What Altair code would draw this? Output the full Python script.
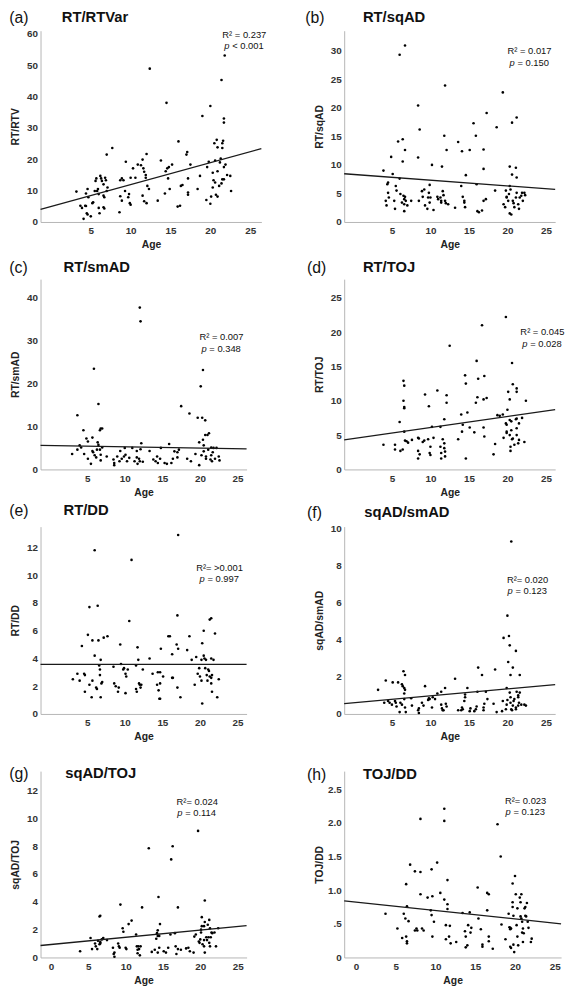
import altair as alt
import pandas as pd

FONT = "Liberation Sans"

# ---------------- data (age, value) ----------------
RT_RTVAR = [(3.2,9.7),(3.7,5.2),(3.9,4.5),(4.3,5.2),(4.4,5.1),(4.1,1.0),(4.5,2.8),(4.6,2.4),(4.4,9.1),(4.6,10.5),(4.7,7.9),(5.0,1.8),(5.2,6.0),(5.3,6.3),(5.5,9.9),(5.6,13.1),(5.7,13.9),(5.8,9.9),(5.9,10.5),(6.0,8.9),(6.0,4.5),(6.1,2.8),(6.2,14.7),(6.3,13.9),(6.4,13.1),(6.6,12.0),(6.6,8.4),(6.7,7.9),(6.6,4.7),(6.7,4.3),(6.8,14.1),(6.9,13.3),(7.0,21.5),(7.0,9.9),(7.1,11.0),(7.7,23.6),(8.6,3.1),(8.7,13.3),(8.9,13.9),(9.1,13.3),(8.7,8.2),(8.9,6.8),(9.3,9.9),(9.4,19.2),(9.7,7.9),(9.8,8.9),(9.9,6.0),(10.0,5.5),(10.0,14.1),(10.3,17.1),(10.6,14.1),(10.9,18.3),(11.3,18.1),(11.5,19.9),(11.6,17.1),(11.7,16.0),(11.5,8.4),(11.7,6.6),(12.0,6.0),(11.9,15.0),(11.9,14.1),(12.0,21.7),(12.1,11.5),(12.3,10.5),(12.4,48.9),(13.4,6.8),(13.8,19.6),(14.3,9.1),(14.4,16.2),(14.6,17.1),(14.5,38.0),(14.7,13.9),(14.8,17.5),(14.9,10.5),(15.2,18.3),(15.9,4.9),(16.2,5.2),(16.0,25.7),(16.3,11.5),(16.5,11.8),(17.0,21.5),(17.1,22.3),(17.2,9.4),(17.2,8.7),(17.2,13.9),(17.5,18.3),(18.4,10.5),(18.7,14.7),(19.0,33.8),(19.5,7.0),(19.6,17.5),(19.8,19.2),(20.0,37.0),(20.0,5.8),(20.1,8.1),(20.3,15.7),(20.4,13.3),(20.3,11.0),(20.5,25.1),(20.6,19.6),(20.6,12.6),(20.7,8.7),(20.8,26.2),(20.9,23.8),(20.9,16.2),(21.1,11.5),(20.9,8.1),(21.2,19.0),(21.3,20.2),(21.4,45.3),(21.4,12.3),(21.5,25.1),(21.5,23.6),(21.6,25.9),(21.5,13.6),(21.7,13.6),(21.7,31.7),(21.7,33.0),(21.7,17.5),(21.8,53.1),(21.9,18.3),(22.1,15.0),(22.6,9.9),(22.5,14.7)]

RT_SQAD = [(3.9,9.0),(4.2,3.7),(4.3,2.9),(4.4,6.6),(4.5,6.9),(4.5,5.1),(4.6,4.3),(4.9,11.4),(5.1,8.4),(5.3,3.7),(5.4,2.3),(5.5,6.3),(5.6,5.5),(5.8,14.1),(6.0,29.3),(6.0,7.6),(6.1,4.9),(6.3,3.4),(6.4,14.5),(6.4,10.6),(6.5,4.6),(6.6,4.0),(6.7,4.4),(6.6,3.1),(6.6,1.9),(6.7,12.6),(6.7,30.9),(6.8,3.7),(7.0,2.9),(7.5,3.7),(8.4,20.4),(8.4,11.3),(8.5,3.7),(8.6,16.2),(8.9,5.4),(9.2,5.7),(9.0,4.4),(9.3,2.9),(9.6,2.3),(9.7,4.3),(9.8,5.1),(9.9,6.5),(9.9,3.4),(10.0,4.3),(10.2,10.0),(10.4,2.1),(10.9,4.4),(11.0,4.0),(11.3,4.3),(11.4,3.4),(11.4,3.7),(11.5,9.7),(11.6,5.4),(11.7,4.7),(11.8,15.1),(11.9,23.9),(11.9,3.7),(12.0,3.3),(12.1,12.6),(12.3,3.1),(13.2,2.5),(13.6,14.0),(14.0,6.3),(14.1,12.4),(14.2,4.4),(14.4,3.4),(14.4,3.7),(14.5,2.6),(14.6,8.2),(15.1,12.6),(15.6,17.3),(15.9,15.1),(16.0,6.6),(16.1,1.9),(16.3,1.7),(16.7,2.0),(16.9,12.7),(16.9,3.7),(16.9,9.3),(17.3,19.1),(17.2,4.0),(18.6,16.6),(18.4,5.5),(19.4,22.7),(19.5,3.1),(19.7,2.6),(19.8,5.5),(19.9,4.4),(19.9,4.3),(20.1,3.7),(20.2,4.9),(20.3,9.7),(20.3,6.3),(20.4,5.7),(20.3,1.5),(20.5,1.3),(20.6,17.4),(20.6,8.3),(20.7,3.7),(20.8,3.3),(20.9,2.6),(21.1,9.5),(21.2,7.8),(21.1,4.3),(21.2,5.1),(21.2,18.3),(21.4,3.1),(21.5,2.3),(21.6,4.3),(21.8,4.6),(21.9,5.1),(22.2,5.1),(22.3,4.7),(22.0,3.7)]

RT_SMAD = [(3.0,3.6),(3.7,12.6),(3.7,4.6),(4.0,5.6),(4.2,5.1),(4.5,9.1),(4.6,3.6),(4.9,7.2),(5.1,6.5),(5.1,2.5),(5.5,1.3),(5.7,7.4),(5.7,4.3),(5.8,4.0),(5.9,23.4),(6.0,3.3),(6.2,2.8),(6.3,4.6),(6.4,6.3),(6.5,5.7),(6.5,15.2),(6.7,9.1),(6.8,9.5),(6.8,3.4),(6.8,2.1),(6.7,4.6),(7.0,5.1),(7.0,9.5),(7.6,3.0),(8.5,2.3),(8.6,1.0),(8.6,1.5),(9.0,3.0),(9.3,1.9),(9.4,4.3),(9.6,2.5),(9.9,3.0),(10.0,5.0),(10.1,3.4),(10.3,1.9),(10.6,2.7),(11.0,5.0),(11.3,1.9),(11.6,2.8),(11.7,1.3),(11.6,4.3),(11.9,2.5),(12.0,1.9),(12.1,4.7),(12.0,37.6),(12.1,34.4),(12.2,6.1),(12.4,1.8),(13.3,4.3),(13.8,2.3),(14.1,1.9),(14.3,3.0),(14.4,1.5),(14.7,2.5),(14.8,5.0),(15.3,1.5),(15.6,1.3),(15.9,5.9),(16.2,1.5),(16.4,2.5),(16.6,4.2),(17.0,2.8),(17.0,4.0),(17.2,4.6),(17.5,14.7),(18.3,2.5),(18.6,13.0),(18.8,1.9),(19.4,3.6),(19.7,12.0),(19.9,1.0),(19.9,6.3),(20.1,19.3),(20.2,3.3),(20.3,12.0),(20.4,23.1),(20.4,6.9),(20.5,5.6),(20.5,4.2),(20.7,8.0),(20.7,11.4),(20.8,2.5),(20.8,3.0),(21.0,8.0),(21.1,4.6),(21.2,8.4),(21.4,2.3),(21.5,3.3),(21.6,1.9),(21.5,5.1),(21.7,4.0),(21.8,5.0),(22.0,2.5),(22.2,5.0),(22.5,3.0),(22.6,2.1)]

RT_TOJ = [(3.9,3.6),(5.4,3.6),(5.4,2.9),(6.0,6.9),(6.1,2.7),(6.4,2.9),(6.5,12.9),(6.6,12.2),(6.5,10.0),(6.6,8.9),(6.6,9.1),(6.6,5.5),(6.7,4.2),(6.9,4.1),(7.1,3.9),(7.6,4.3),(8.4,4.6),(8.5,4.5),(8.4,2.7),(8.4,1.6),(8.6,2.2),(9.0,4.0),(9.2,4.2),(9.3,10.9),(9.7,4.4),(9.8,9.2),(9.9,2.4),(10.0,2.1),(10.0,3.3),(10.2,6.2),(10.4,4.6),(10.9,11.5),(11.3,6.2),(11.3,3.3),(11.4,2.4),(11.4,1.6),(11.6,4.4),(11.8,3.8),(11.8,3.1),(11.9,2.6),(11.9,1.9),(11.8,7.3),(12.1,10.8),(12.1,9.7),(12.5,18.0),(13.6,4.4),(14.0,8.0),(14.1,5.5),(14.2,6.5),(14.5,13.7),(14.6,12.5),(14.6,1.6),(14.8,8.3),(15.1,6.1),(15.7,5.4),(15.9,9.7),(16.0,15.8),(16.1,10.5),(16.2,13.2),(16.7,21.0),(16.9,6.1),(16.9,10.2),(17.0,4.8),(17.0,13.6),(17.3,10.4),(18.2,2.2),(18.4,3.7),(18.7,7.9),(19.0,7.8),(19.4,8.0),(19.5,4.6),(19.8,22.2),(19.8,6.7),(19.9,6.5),(19.9,5.5),(19.9,5.3),(20.0,8.7),(20.1,11.3),(20.3,10.2),(20.3,7.2),(20.3,5.0),(20.4,3.3),(20.4,2.7),(20.5,7.0),(20.6,4.4),(20.7,4.5),(20.5,5.7),(20.6,15.5),(20.7,12.4),(20.9,3.6),(21.1,7.3),(21.2,6.0),(21.2,11.8),(21.2,11.3),(21.2,5.0),(21.4,3.8),(21.5,4.3),(21.2,7.4),(21.5,6.7),(21.9,7.5),(22.2,4.0),(22.4,10.0)]

RT_DD = [(3.1,2.5),(3.7,2.9),(4.0,2.4),(4.3,4.9),(4.6,2.9),(4.7,2.8),(4.7,1.6),(5.1,5.7),(5.3,7.7),(5.3,2.1),(5.6,1.2),(5.7,5.3),(5.7,2.4),(6.0,11.8),(6.0,4.2),(6.2,1.9),(6.3,1.8),(6.4,7.8),(6.5,5.3),(6.6,3.5),(6.7,3.2),(6.7,2.8),(6.8,3.9),(6.8,1.2),(6.9,2.2),(7.0,2.3),(7.2,5.5),(7.7,5.6),(8.5,3.4),(8.6,2.2),(8.8,2.0),(9.1,1.6),(9.2,1.9),(9.4,5.0),(9.5,3.6),(9.8,3.2),(9.9,3.3),(10.1,2.9),(10.1,1.5),(10.2,2.7),(10.4,3.2),(10.6,6.7),(10.9,11.1),(11.5,3.5),(11.6,1.6),(11.5,1.8),(11.7,4.8),(11.8,3.9),(11.9,2.2),(12.0,2.1),(12.1,1.9),(12.2,2.1),(12.4,3.2),(13.3,4.0),(13.7,2.9),(14.3,2.1),(14.4,3.0),(14.5,1.7),(14.7,3.0),(14.6,1.1),(14.7,2.2),(14.7,1.1),(14.8,4.7),(15.1,2.7),(15.8,5.6),(16.0,5.6),(16.3,4.3),(16.3,2.6),(16.4,2.6),(16.9,5.0),(17.0,7.1),(17.0,1.9),(17.1,4.7),(17.1,12.9),(17.4,1.2),(18.3,4.6),(18.6,5.6),(18.9,3.9),(19.3,2.1),(19.5,4.1),(19.7,2.9),(19.9,3.3),(20.0,2.7),(20.2,3.9),(20.2,2.4),(20.3,5.1),(20.5,4.2),(20.3,0.75),(20.5,6.0),(20.6,4.0),(20.7,3.3),(20.8,3.9),(20.9,2.8),(21.0,2.4),(21.1,3.2),(21.2,3.1),(21.3,2.7),(21.5,2.2),(21.3,6.8),(21.5,6.9),(21.5,4.0),(21.5,2.6),(21.6,2.8),(21.6,1.6),(21.8,3.9),(22.0,5.8),(22.3,1.2),(22.5,2.5)]

SQAD_SMAD = [(3.2,1.3),(4.0,0.6),(4.2,1.8),(4.5,0.7),(4.7,0.6),(5.0,0.5),(5.1,1.7),(5.4,0.7),(5.5,0.6),(5.6,0.4),(5.8,1.7),(6.0,0.1),(6.1,0.6),(6.3,0.5),(6.3,1.6),(6.4,1.5),(6.5,2.3),(6.7,2.1),(6.6,1.4),(6.7,1.3),(6.6,1.1),(6.6,0.8),(6.7,0.35),(6.8,0.1),(7.5,0.85),(7.6,0.45),(8.4,0.2),(8.5,0.05),(8.5,0.3),(8.9,0.6),(9.1,0.45),(9.3,1.5),(9.7,0.75),(9.8,0.85),(9.9,0.8),(10.2,0.35),(10.3,0.9),(10.6,0.8),(10.9,1.1),(11.4,1.2),(11.4,0.5),(11.5,0.3),(11.6,0.2),(11.7,0.2),(11.9,1.4),(12.0,0.55),(12.1,0.4),(13.2,1.9),(13.6,0.2),(14.0,0.2),(14.1,0.35),(14.2,0.25),(14.4,0.7),(14.5,1.05),(14.5,0.9),(14.8,1.4),(15.1,0.15),(15.2,0.3),(15.7,0.15),(15.9,0.25),(16.0,0.4),(16.2,2.5),(16.1,1.2),(16.7,2.1),(16.9,0.2),(16.9,0.35),(17.0,0.55),(17.2,1.2),(17.4,0.8),(18.2,0.55),(18.4,2.4),(18.6,0.1),(19.3,0.15),(19.4,0.7),(19.5,4.1),(19.8,0.25),(19.9,0.5),(20.0,0.75),(19.9,1.4),(20.0,5.3),(20.1,2.8),(20.2,4.2),(20.3,3.7),(20.3,1.15),(20.4,0.9),(20.4,0.6),(20.4,2.1),(20.5,9.3),(20.5,0.25),(20.6,0.2),(20.7,0.45),(20.7,2.5),(20.8,0.7),(20.9,0.8),(21.1,3.4),(21.1,0.25),(21.1,0.35),(21.2,1.2),(21.4,1.0),(21.4,0.9),(21.5,0.6),(21.4,0.45),(21.6,2.1),(21.6,1.15),(21.8,0.5),(22.2,0.5),(22.4,0.45)]

SQAD_TOJ = [(3.9,0.45),(5.3,1.4),(5.5,0.6),(5.9,1.0),(6.0,0.8),(6.2,0.6),(6.3,1.2),(6.5,0.95),(6.6,1.0),(6.6,1.1),(6.5,2.95),(6.6,3.0),(6.8,1.3),(7.0,1.4),(7.5,1.25),(8.3,0.7),(8.4,0.25),(8.5,0.35),(8.5,0.05),(9.0,1.0),(9.1,0.8),(9.2,0.7),(9.3,3.8),(9.6,2.1),(9.7,1.85),(10.0,0.7),(10.1,0.6),(10.4,2.4),(10.8,2.65),(11.4,1.65),(11.5,0.8),(11.6,0.55),(11.6,0.3),(11.7,0.8),(11.8,0.6),(11.9,0.15),(12.0,0.8),(12.2,3.6),(13.5,0.4),(13.9,0.55),(13.1,7.85),(14.1,1.35),(14.2,1.75),(14.3,1.95),(14.3,1.55),(14.5,1.55),(14.4,4.35),(14.3,0.35),(14.5,0.7),(14.6,2.4),(15.1,0.45),(15.4,0.35),(15.7,0.7),(16.0,1.65),(16.1,7.05),(16.3,8.0),(16.6,1.75),(16.7,0.8),(16.8,0.25),(17.0,0.6),(17.0,3.6),(17.4,0.55),(18.1,0.65),(18.4,0.7),(18.6,0.45),(19.1,0.35),(19.2,1.5),(19.4,1.65),(19.7,9.1),(19.8,1.15),(19.9,1.05),(20.0,1.3),(20.1,1.8),(20.1,2.0),(20.2,2.25),(20.2,2.9),(20.3,0.95),(20.5,0.8),(20.5,1.25),(20.5,2.25),(20.6,2.55),(20.6,4.1),(20.6,0.35),(20.8,1.45),(20.9,1.25),(21.0,2.35),(21.1,1.45),(21.2,2.7),(21.2,1.05),(21.3,0.8),(21.4,1.45),(21.3,2.1),(21.5,1.8),(21.6,1.75),(21.9,1.8),(22.1,0.8),(22.4,2.1)]

TOJ_DD = [(3.7,0.65),(5.2,0.43),(5.8,0.29),(6.0,0.65),(6.2,0.58),(6.3,1.09),(6.3,0.31),(6.4,0.24),(6.4,0.21),(6.4,0.76),(6.6,0.54),(6.8,1.38),(7.4,1.28),(7.4,0.40),(7.6,0.43),(7.7,0.40),(8.1,2.06),(8.1,1.27),(8.1,0.94),(8.3,0.43),(8.5,0.40),(9.0,0.89),(9.4,0.70),(9.5,0.63),(9.5,1.31),(9.6,0.91),(9.6,0.31),(9.8,0.53),(10.2,1.41),(10.6,0.96),(11.1,2.21),(11.1,2.03),(11.1,0.86),(11.3,0.27),(11.3,0.48),(11.5,1.15),(11.5,0.79),(11.5,0.72),(11.7,0.31),(11.9,0.21),(11.8,0.47),(12.6,0.23),(13.4,0.66),(13.7,0.39),(13.8,0.31),(13.8,0.15),(14.0,0.18),(14.1,0.48),(14.4,0.37),(14.5,0.44),(14.3,0.67),(15.3,1.04),(15.4,0.58),(15.7,0.42),(15.9,0.19),(15.9,0.16),(16.5,0.96),(16.7,0.94),(16.5,0.70),(16.7,0.31),(16.7,0.24),(17.2,0.13),(17.8,1.98),(18.2,1.50),(18.3,0.49),(18.8,0.27),(19.2,0.65),(19.3,0.45),(19.4,0.44),(19.5,0.43),(19.4,0.42),(19.4,0.16),(19.5,0.14),(19.7,0.82),(19.7,0.75),(19.8,0.62),(19.7,1.10),(19.8,0.19),(19.9,0.08),(20.0,1.21),(20.1,0.94),(20.2,0.48),(20.3,0.31),(20.3,0.73),(20.4,0.18),(20.6,0.89),(20.7,0.82),(20.8,0.94),(20.7,0.61),(20.8,0.58),(20.9,0.53),(20.9,0.37),(21.0,0.23),(21.0,0.43),(21.1,0.36),(21.2,0.73),(21.3,0.62),(21.4,0.61),(21.3,0.75),(21.5,0.81),(21.6,0.53),(21.7,0.44),(22.0,0.23),(22.1,0.28)]

# regression line values at the two ends of the age axis
FIT_RT_RTVAR = [4.0, 23.4]
FIT_RT_SQAD = [8.45, 5.7]
FIT_RT_SMAD = [5.6, 4.8]
FIT_RT_TOJ = [4.3, 8.7]
FIT_RT_DD = [3.57, 3.57]
FIT_SQAD_SMAD = [0.56, 1.58]
FIT_SQAD_TOJ = [0.86, 2.29]
FIT_TOJ_DD = [0.84, 0.50]

X_TICKS = [5, 10, 15, 20, 25]
X_TICKS0 = [0, 5, 10, 15, 20, 25]

PANELS = [
    dict(letter="(a)", title="RT/RTVar", ytitle="RT/RTV", pts=RT_RTVAR, fit=FIT_RT_RTVAR,
         xdom=[-1.3, 26.4], ydom=[0, 61], yticks=[0, 10, 20, 30, 40, 50, 60], xticks=X_TICKS,
         r2="R\u00b2 = 0.237", p="< 0.001"),
    dict(letter="(b)", title="RT/sqAD", ytitle="RT/sqAD", pts=RT_SQAD, fit=FIT_RT_SQAD,
         xdom=[-1.2, 26.2], ydom=[0, 33.5], yticks=[0, 5, 10, 15, 20, 25, 30], xticks=X_TICKS,
         r2="R\u00b2 = 0.017", p="= 0.150"),
    dict(letter="(c)", title="RT/smAD", ytitle="RT/smAD", pts=RT_SMAD, fit=FIT_RT_SMAD,
         xdom=[-1.2, 26.2], ydom=[0, 44.2], yticks=[0, 10, 20, 30, 40], xticks=X_TICKS,
         r2="R\u00b2 = 0.007", p="= 0.348"),
    dict(letter="(d)", title="RT/TOJ", ytitle="RT/TOJ", pts=RT_TOJ, fit=FIT_RT_TOJ,
         xdom=[-1.2, 26.2], ydom=[0, 27.7], yticks=[0, 5, 10, 15, 20, 25], xticks=X_TICKS,
         r2="R\u00b2 = 0.045", p="= 0.028"),
    dict(letter="(e)", title="RT/DD", ytitle="RT/DD", pts=RT_DD, fit=FIT_RT_DD,
         xdom=[-1.2, 26.2], ydom=[0, 13.5], yticks=[0, 2, 4, 6, 8, 10, 12], xticks=X_TICKS,
         r2="R\u00b2= >0.001", p="= 0.997"),
    dict(letter="(f)", title="sqAD/smAD", ytitle="sqAD/smAD", pts=SQAD_SMAD, fit=FIT_SQAD_SMAD,
         xdom=[-1.2, 26.2], ydom=[0, 10.1], yticks=[0, 2, 4, 6, 8, 10], xticks=X_TICKS,
         r2="R\u00b2= 0.020", p="= 0.123"),
    dict(letter="(g)", title="sqAD/TOJ", ytitle="sqAD/TOJ", pts=SQAD_TOJ, fit=FIT_SQAD_TOJ,
         xdom=[-1.4, 26.2], ydom=[0, 13.4], yticks=[0, 2, 4, 6, 8, 10, 12], xticks=X_TICKS0,
         r2="R\u00b2= 0.024", p="= 0.114"),
    dict(letter="(h)", title="TOJ/DD", ytitle="TOJ/DD", pts=TOJ_DD, fit=FIT_TOJ_DD,
         xdom=[-1.5, 25.8], ydom=[0, 2.77], yticks=[0, 0.5, 1.0, 1.5, 2.0, 2.5], xticks=X_TICKS0,
         r2="R\u00b2= 0.023", p="= 0.123"),
]

# layout: plot size, letter x, title x, heading top, R2 centre x and baseline
LAYOUT = [
    dict(w=224, h=194, lx=-31.7, tx=21.6, hy=-21, cx=206.7, ry=7),
    dict(w=214, h=194, lx=-39.4, tx=19.0, hy=-21, cx=188.0, ry=24),
    dict(w=209, h=193, lx=-31.7, tx=23.3, hy=-19, cx=183.5, ry=62),
    dict(w=214, h=193, lx=-37.7, tx=19.0, hy=-19, cx=201.0, ry=57),
    dict(w=209, h=190, lx=-31.7, tx=23.3, hy=-24, cx=181.6, ry=45),
    dict(w=214, h=190, lx=-37.7, tx=20.3, hy=-22, cx=186.0, ry=57),
    dict(w=209, h=189, lx=-31.7, tx=25.0, hy=-5, cx=159.0, ry=34),
    dict(w=220, h=189, lx=-37.7, tx=19.0, hy=-4, cx=184.0, ry=33),
]


def txt(s, x, y, size, weight="normal", style="normal", align="left", baseline="alphabetic"):
    return alt.Chart(pd.DataFrame({"t": [s]})).mark_text(
        font=FONT, fontSize=size, fontWeight=weight, fontStyle=style,
        align=align, baseline=baseline, color="#111111"
    ).encode(x=alt.value(x), y=alt.value(y), text="t:N")


def panel(cfg, lay):
    df = pd.DataFrame(cfg["pts"], columns=["Age", "Val"])
    ylab = {}
    if cfg["letter"] == "(h)":
        ylab["labelExpr"] = ("datum.value == 0 ? '0' : (datum.value == 0.5 ? '.5' : "
                             "format(datum.value, '.1f'))")
    xaxis = alt.Axis(values=cfg["xticks"], title="Age", labelOverlap=False)
    yaxis = alt.Axis(values=cfg["yticks"], title=cfg["ytitle"], labelOverlap=False,
                     tickCount=len(cfg["yticks"]), **ylab)
    x = alt.X("Age:Q", scale=alt.Scale(domain=cfg["xdom"], nice=False, zero=False), axis=xaxis)
    y = alt.Y("Val:Q", scale=alt.Scale(domain=cfg["ydom"], nice=False, zero=False), axis=yaxis)
    pts = alt.Chart(df).mark_circle(size=7, color="black", opacity=1).encode(x=x, y=y)
    fit = pd.DataFrame({"Age": cfg["xdom"], "Val": cfg["fit"]})
    line = alt.Chart(fit).mark_line(color="#1a1a1a", strokeWidth=1.3).encode(
        x=alt.X("Age:Q", axis=xaxis), y=alt.Y("Val:Q", axis=yaxis))
    cx, ry = lay["cx"], lay["ry"]
    layers = [
        pts, line,
        txt(cfg["letter"], lay["lx"], lay["hy"], 16, baseline="top"),
        txt(cfg["title"], lay["tx"], lay["hy"], 15, weight="bold", baseline="top"),
        txt(cfg["r2"], cx, ry, 9.5, align="center"),
        txt("p", cx - 15, ry + 11.5, 9.5, style="italic", align="right"),
        txt(cfg["p"], cx - 12.3, ry + 11.5, 9.5, align="left"),
    ]
    return alt.layer(*layers).properties(width=lay["w"], height=lay["h"])


charts = [panel(c, l) for c, l in zip(PANELS, LAYOUT)]

chart = alt.concat(
    *charts, columns=2, spacing={"row": 58, "column": 84}, bounds="flush", align="each"
).properties(
    padding={"left": 0, "top": -6, "right": 2, "bottom": 0}
).configure_view(
    stroke="transparent"
).configure_axis(
    grid=False, ticks=False, tickSize=0, domainColor="#b5b5b5", domainWidth=1,
    labelOverlap=False,
    labelFont=FONT, labelFontSize=10, labelFontWeight="bold", labelColor="#333333",
    titleFont=FONT, titleFontSize=10.5, titleFontWeight="bold", titleColor="#222222"
).configure_axisX(
    labelPadding=4, titlePadding=4, labelFlush=False
).configure_axisY(
    labelPadding=3, titlePadding=4, minExtent=16, maxExtent=16
)

chart.save("out.html", embed_options={"renderer": "svg", "actions": False})
